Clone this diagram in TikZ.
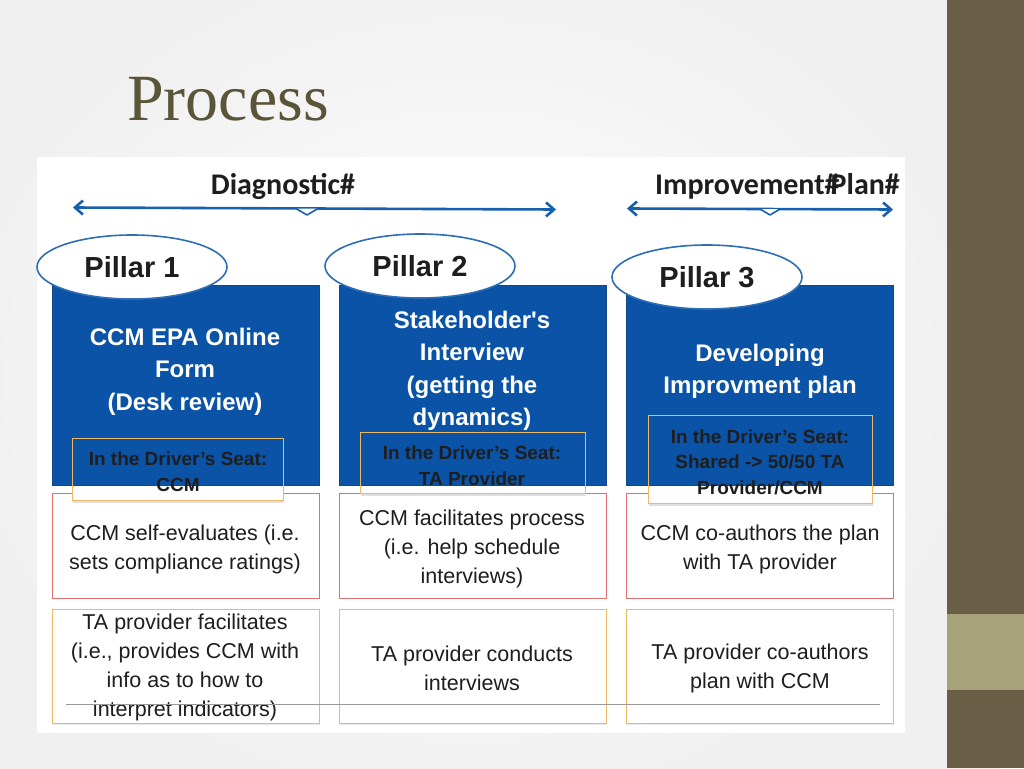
\documentclass[tikz,border=0pt]{standalone}
\usepackage{fontspec}
\setmainfont{Liberation Sans}
\newfontfamily\titlefont{Liberation Serif}
\newfontfamily\califont{Carlito}
\usetikzlibrary{arrows.meta,shadows,shapes.geometric}
\definecolor{boxblue}{RGB}{11,83,166}
\definecolor{boxblueedge}{RGB}{20,70,140}
\definecolor{arrowblue}{RGB}{25,95,175}
\definecolor{pillaredge}{RGB}{46,110,180}
\definecolor{rededge}{RGB}{226,110,110}
\definecolor{orangeedge}{RGB}{238,185,100}
\definecolor{titlecol}{RGB}{90,84,56}
\definecolor{bardark}{RGB}{105,94,70}
\definecolor{barlight}{RGB}{168,162,122}
\definecolor{textdark}{RGB}{30,30,30}
\tikzset{
  spanarrow/.style={draw=arrowblue, line width=2.6pt, {Straight Barb[length=8pt,width=14pt]}-{Straight Barb[length=8pt,width=14pt]}},
  notch/.style={draw=arrowblue, line width=1.6pt, fill=white, line join=round},
  phase/.style={font=\califont\bfseries\fontsize{30}{30}\selectfont, text=textdark},
  bluebox/.style={draw=boxblueedge, line width=0.8pt, fill=boxblue, minimum width=267pt, minimum height=200pt, inner sep=0pt},
  bluetext/.style={font=\bfseries\fontsize{24}{32.5}\selectfont, text=white, align=center, inner sep=0pt},
  pillar/.style={ellipse, draw=pillaredge, line width=1.6pt, fill=white, minimum width=190pt, minimum height=64pt, inner sep=0pt, font=\bfseries\fontsize{29}{29}\selectfont, text=textdark},
  redbox/.style={draw=rededge, line width=0.8pt, fill=white, minimum width=267pt, minimum height=105pt, inner sep=0pt},
  orangebox/.style={draw=orangeedge, line width=0.9pt, fill=white, minimum width=267pt, minimum height=114pt, inner sep=0pt, drop shadow={shadow xshift=0.5pt, shadow yshift=-2pt, opacity=0.18}},
  celltext/.style={font=\fontsize{21.5}{29}\selectfont, text=textdark, align=center, inner sep=0pt},
  seatbox/.style={draw=orangeedge, line width=0.9pt, inner sep=0pt},
  seatshadow/.style={fill=black, opacity=0.12},
  seattext/.style={font=\bfseries\fontsize{19}{25.5}\selectfont, text=textdark, align=center, inner sep=0pt},
}
\begin{document}
\begin{tikzpicture}[x=1pt,y=-1pt]
\useasboundingbox (0,0) rectangle (1024,768);
% background
\fill[white] (0,0) rectangle (947,768);
\shade[inner color=white, outer color=black!6] (-60,-60) rectangle (1000,820);
\fill[bardark] (947,0) rectangle (1024,768);
\fill[barlight] (947,614) rectangle (1024,690);
\fill[white] (37,157) rectangle (905,733);
% title
\node[anchor=base west, font=\titlefont\fontsize{66}{66}\selectfont, text=titlecol, inner sep=0pt] (title) at (127,120) {Process};
% phase arrows
\node[phase] (diag) at (283,186) {Diagnostic\#};
\coordinate (d1) at (73,207.5);
\coordinate (d2) at (556,209.5);
\draw[spanarrow] (d1) -- (d2);
\draw[notch] (296,208.5) -- (307,215) -- (318,208.5);
\node[phase] (impr) at (777.5,186) {Improvement\#\kern-0.3em Plan\#};
\coordinate (i1) at (627,208.5);
\coordinate (i2) at (893,209.5);
\draw[spanarrow] (i1) -- (i2);
\draw[notch] (760,209) -- (770,215) -- (780,209);
% blue boxes
\node[bluebox] (b1) at (185.5,385) {};
\node[bluebox] (b2) at (472.5,385) {};
\node[bluebox] (b3) at (759.5,385) {};
\node[bluetext] (t1) at (185,371.5) {CCM EPA Online\\Form\\(Desk review)};
\node[bluetext] (t2) at (472,371) {Stakeholder\textquotesingle s\\Interview\\(getting the\\dynamics)};
\node[bluetext] (t3) at (760,371.5) {Developing\\Improvment plan};
% pillars
\node[pillar] (p1) at (132,267) {Pillar 1};
\node[pillar] (p2) at (420,266) {Pillar 2};
\node[pillar] (p3) at (707,277) {Pillar 3};
% red boxes (row 1)
\node[redbox] (r1) at (185.5,545.5) {};
\node[redbox] (r2) at (472.5,545.5) {};
\node[redbox] (r3) at (759.5,545.5) {};
\node[celltext] (rt1) at (185,549.5) {CCM self-evaluates (i.e.\\sets compliance ratings)};
\node[celltext] (rt2) at (472,549) {CCM facilitates process\\(i.e. help schedule\\interviews)};
\node[celltext] (rt3) at (760,549.5) {CCM co-authors the plan\\with TA provider};
% orange boxes (row 2)
\node[orangebox] (o1) at (185.5,666) {};
\node[orangebox] (o2) at (472.5,666) {};
\node[orangebox] (o3) at (759.5,666) {};
\node[celltext] (ot1) at (185,667.5) {TA provider facilitates\\(i.e., provides CCM with\\info as to how to\\interpret indicators)};
\node[celltext] (ot2) at (472,668.5) {TA provider conducts\\interviews};
\node[celltext] (ot3) at (760,668.5) {TA provider co-authors\\plan with CCM};
% driver's seat boxes
\fill[white] (72,485.5) rectangle (283,500);
\fill[white] (360,485.5) rectangle (585,493);
\fill[white] (648,485.5) rectangle (872,503);
\fill[seatshadow] (73,500) rectangle (284,502.5);
\fill[seatshadow] (361,493) rectangle (586,495.5);
\fill[seatshadow] (649,503) rectangle (873,505.5);
\node[seatbox, minimum width=211pt, minimum height=62pt] (s1) at (177.5,469) {};
\node[seatbox, minimum width=225pt, minimum height=61pt] (s2) at (472.5,462.5) {};
\node[seatbox, minimum width=224pt, minimum height=88pt] (s3) at (760,459) {};
\node[seattext] (st1) at (178,471.5) {In the Driver’s Seat:\\CCM};
\node[seattext] (st2) at (472,465.5) {In the Driver’s Seat:\\TA Provider};
\node[seattext] (st3) at (760,462) {In the Driver’s Seat:\\Shared -> 50/50 TA\\Provider/CCM};
% rule line
\coordinate (g1) at (66,704);
\coordinate (g2) at (880,704);
\draw[black!40, line width=0.8pt] (g1) -- (g2);
\end{tikzpicture}
\end{document}
